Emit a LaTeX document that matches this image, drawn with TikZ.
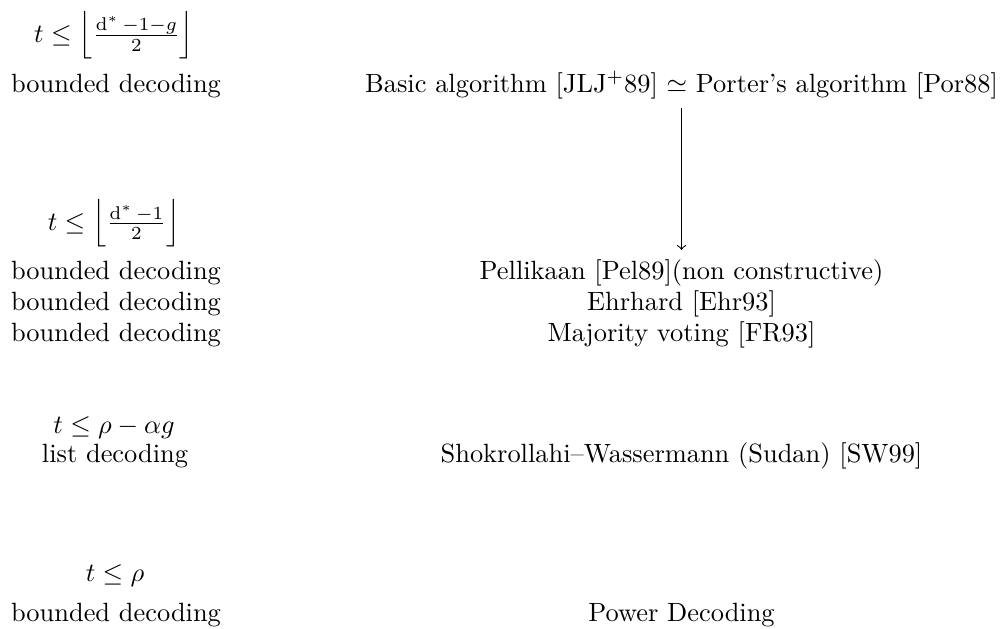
\documentclass[tikz,border=0pt]{standalone}
\usepackage{amsmath}
\begin{document}
\begin{tikzpicture}[x=0.3788pt,y=-0.3788pt,
  lbl/.style={anchor=base},
  alg/.style={anchor=base}]
\useasboundingbox (0,0) rectangle (1001,628);
% left column
\node[lbl] (f1) at (114,42) {$t \leq \left\lfloor \frac{\operatorname{d}^*-1-g}{2} \right\rfloor$};
\node[lbl] (bd1) at (116,92.5) {bounded decoding};
\node[lbl] (f2) at (114,230) {$t \leq \left\lfloor \frac{\operatorname{d}^*-1}{2} \right\rfloor$};
\node[lbl] (bd2) at (116,279) {bounded decoding};
\node[lbl] (bd3) at (116,310) {bounded decoding};
\node[lbl] (bd4) at (116,341) {bounded decoding};
\node[lbl] (f3) at (114,433) {$t \leq \rho - \alpha g$};
\node[lbl] (ld) at (115,462) {list decoding};
\node[lbl] (f4) at (115,581) {$t \leq \rho$};
\node[lbl] (bd5) at (116,621) {bounded decoding};
% right column
\node[alg] (basic) at (681.5,92.5) {Basic algorithm [JLJ$^+$89] $\simeq$ Porter's algorithm [Por88]};
\node[alg] (pel) at (681.5,279) {Pellikaan [Pel89](non constructive)};
\node[alg] (ehr) at (681.5,310) {Ehrhard [Ehr93]};
\node[alg] (maj) at (681.5,341) {Majority voting [FR93]};
\node[alg] (sw) at (681.5,462) {Shokrollahi--Wassermann (Sudan) [SW99]};
\node[alg] (pow) at (681.5,621) {Power Decoding};
% connector
\draw[->] (basic.south) -- (basic.south |- pel.north);
\end{tikzpicture}
\end{document}
